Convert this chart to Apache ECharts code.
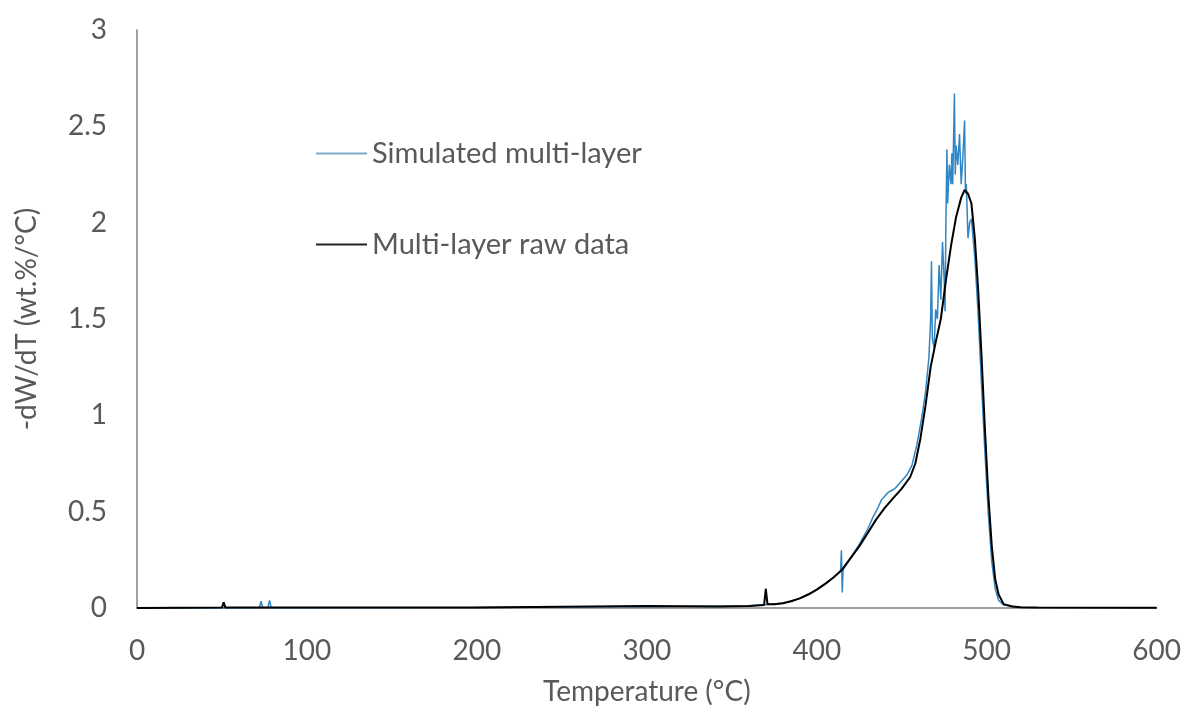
<!DOCTYPE html>
<html>
<head>
<meta charset="utf-8">
<script src="https://cdn.jsdelivr.net/npm/echarts@6/dist/echarts.min.js"></script>
<style>html,body{margin:0;padding:0;background:#fff}#c{width:1184px;height:711px}</style>
</head>
<body>
<div id="c"></div>
<script>
const seriesNames = ['Simulated multi-layer', 'Multi-layer raw data'];
const xTicks = [0, 100, 200, 300, 400, 500, 600];
const yTicks = [0, 0.5, 1, 1.5, 2, 2.5, 3];

// Simulated multi-layer: [temperature °C, -dW/dT]
const simulated = [
  [0,0],[72,0.001],[73,0.035],[74,0.001],[77,0.001],[78,0.04],[79,0.001],[100,0.001],
  [200,0.002],[300,0.008],[360,0.01],[380,0.025],[390,0.05],[400,0.095],[410,0.16],
  [414,0.19],[414.5,0.3],[415,0.08],[415.5,0.2],[420,0.26],[425,0.33],[430,0.41],
  [433,0.47],[436,0.52],[438,0.56],[440,0.58],[442,0.6],[444,0.61],[446,0.62],[448,0.64],
  [450,0.66],[453,0.69],[456,0.74],[459,0.85],[462,1.0],[464,1.12],[466,1.3],[467,1.5],
  [467.5,1.8],[468,1.4],[469,1.35],[470,1.55],[471,1.5],[472,1.78],[473,1.6],[474,1.9],
  [475,1.7],[475.5,1.54],[476,2.0],[476.6,2.38],[477,2.1],[478,2.3],[479,2.2],[479.5,2.36],
  [480,2.2],[481,2.67],[481.5,2.25],[482,2.4],[483,2.3],[484,2.46],[485,2.2],[486,2.35],
  [487,2.53],[487.5,2.15],[488,2.2],[489,1.92],[490,2.0],[491,2.02],[493,1.82],[495,1.52],
  [497,1.15],[499,0.8],[501,0.48],[503,0.24],[505,0.1],[507,0.04],[510,0.015],[520,0.003],
  [600,0.001]
];

// Multi-layer raw data
const raw = [
  [0,0],[50,0.002],[51,0.03],[52,0.002],[100,0.002],[200,0.003],[250,0.006],[300,0.01],
  [340,0.008],[341,0.015],[342,0.008],[360,0.01],[369,0.015],[370,0.1],[371,0.02],
  [375,0.02],[380,0.025],[385,0.035],[390,0.05],[395,0.07],[400,0.095],[405,0.125],
  [410,0.16],[415,0.2],[420,0.26],[425,0.32],[430,0.39],[435,0.46],[440,0.52],[445,0.57],
  [450,0.62],[455,0.68],[458,0.75],[461,0.88],[464,1.05],[467,1.25],[470,1.38],[473,1.5],
  [476,1.7],[479,1.88],[482,2.03],[485,2.13],[487,2.17],[489,2.15],[491,2.1],[493,1.92],
  [495,1.65],[497,1.3],[499,0.92],[501,0.58],[503,0.32],[505,0.15],[507,0.07],[510,0.02],
  [515,0.008],[520,0.004],[530,0.002],[600,0.001]
];

const chart = echarts.init(document.getElementById('c'), null, {renderer:'canvas'});
const font = 'Lato, "Open Sans", sans-serif';
chart.setOption({
  animation: false,
  backgroundColor: '#fff',
  grid: {left: 137, right: 26, top: 30, bottom: 103, containLabel: false},
  legend: {
    orient: 'vertical', left: 311, top: 134, itemGap: 62,
    itemWidth: 51, itemHeight: 2, icon: 'rect',
    textStyle: {fontFamily: font, fontSize: 29, color: '#595959'},
    data: [
      {name: seriesNames[0], itemStyle: {color: '#7fa9c4'}},
      {name: seriesNames[1], itemStyle: {color: '#222'}}
    ]
  },
  xAxis: {
    type: 'value', min: xTicks[0], max: xTicks[xTicks.length-1], interval: 100,
    name: 'Temperature (°C)', nameLocation: 'middle', nameGap: 70,
    nameTextStyle: {fontFamily: font, fontSize: 28, color: '#595959'},
    axisLine: {show: true, lineStyle: {color: '#7f7f7f', width: 1.5}},
    axisTick: {show: false}, splitLine: {show: false},
    axisLabel: {fontFamily: font, fontSize: 28, color: '#595959', margin: 29}
  },
  yAxis: {
    type: 'value', min: yTicks[0], max: yTicks[yTicks.length-1], interval: 0.5,
    name: '-dW/dT (wt.%/°C)', nameLocation: 'middle', nameGap: 96,
    nameTextStyle: {fontFamily: font, fontSize: 28, color: '#595959'},
    axisLine: {show: true, lineStyle: {color: '#7f7f7f', width: 1.5}},
    axisTick: {show: false}, splitLine: {show: false},
    axisLabel: {fontFamily: font, fontSize: 28, color: '#595959', margin: 30}
  },
  series: [
    {name: seriesNames[0], type: 'line', data: simulated, showSymbol: false, symbol: 'none',
     lineStyle: {color: '#2f86c4', width: 1.5}, itemStyle: {color: '#2f86c4'}},
    {name: seriesNames[1], type: 'line', data: raw, showSymbol: false, symbol: 'none',
     lineStyle: {color: '#000', width: 2}, itemStyle: {color: '#000'}}
  ]
});
</script>
</body>
</html>
